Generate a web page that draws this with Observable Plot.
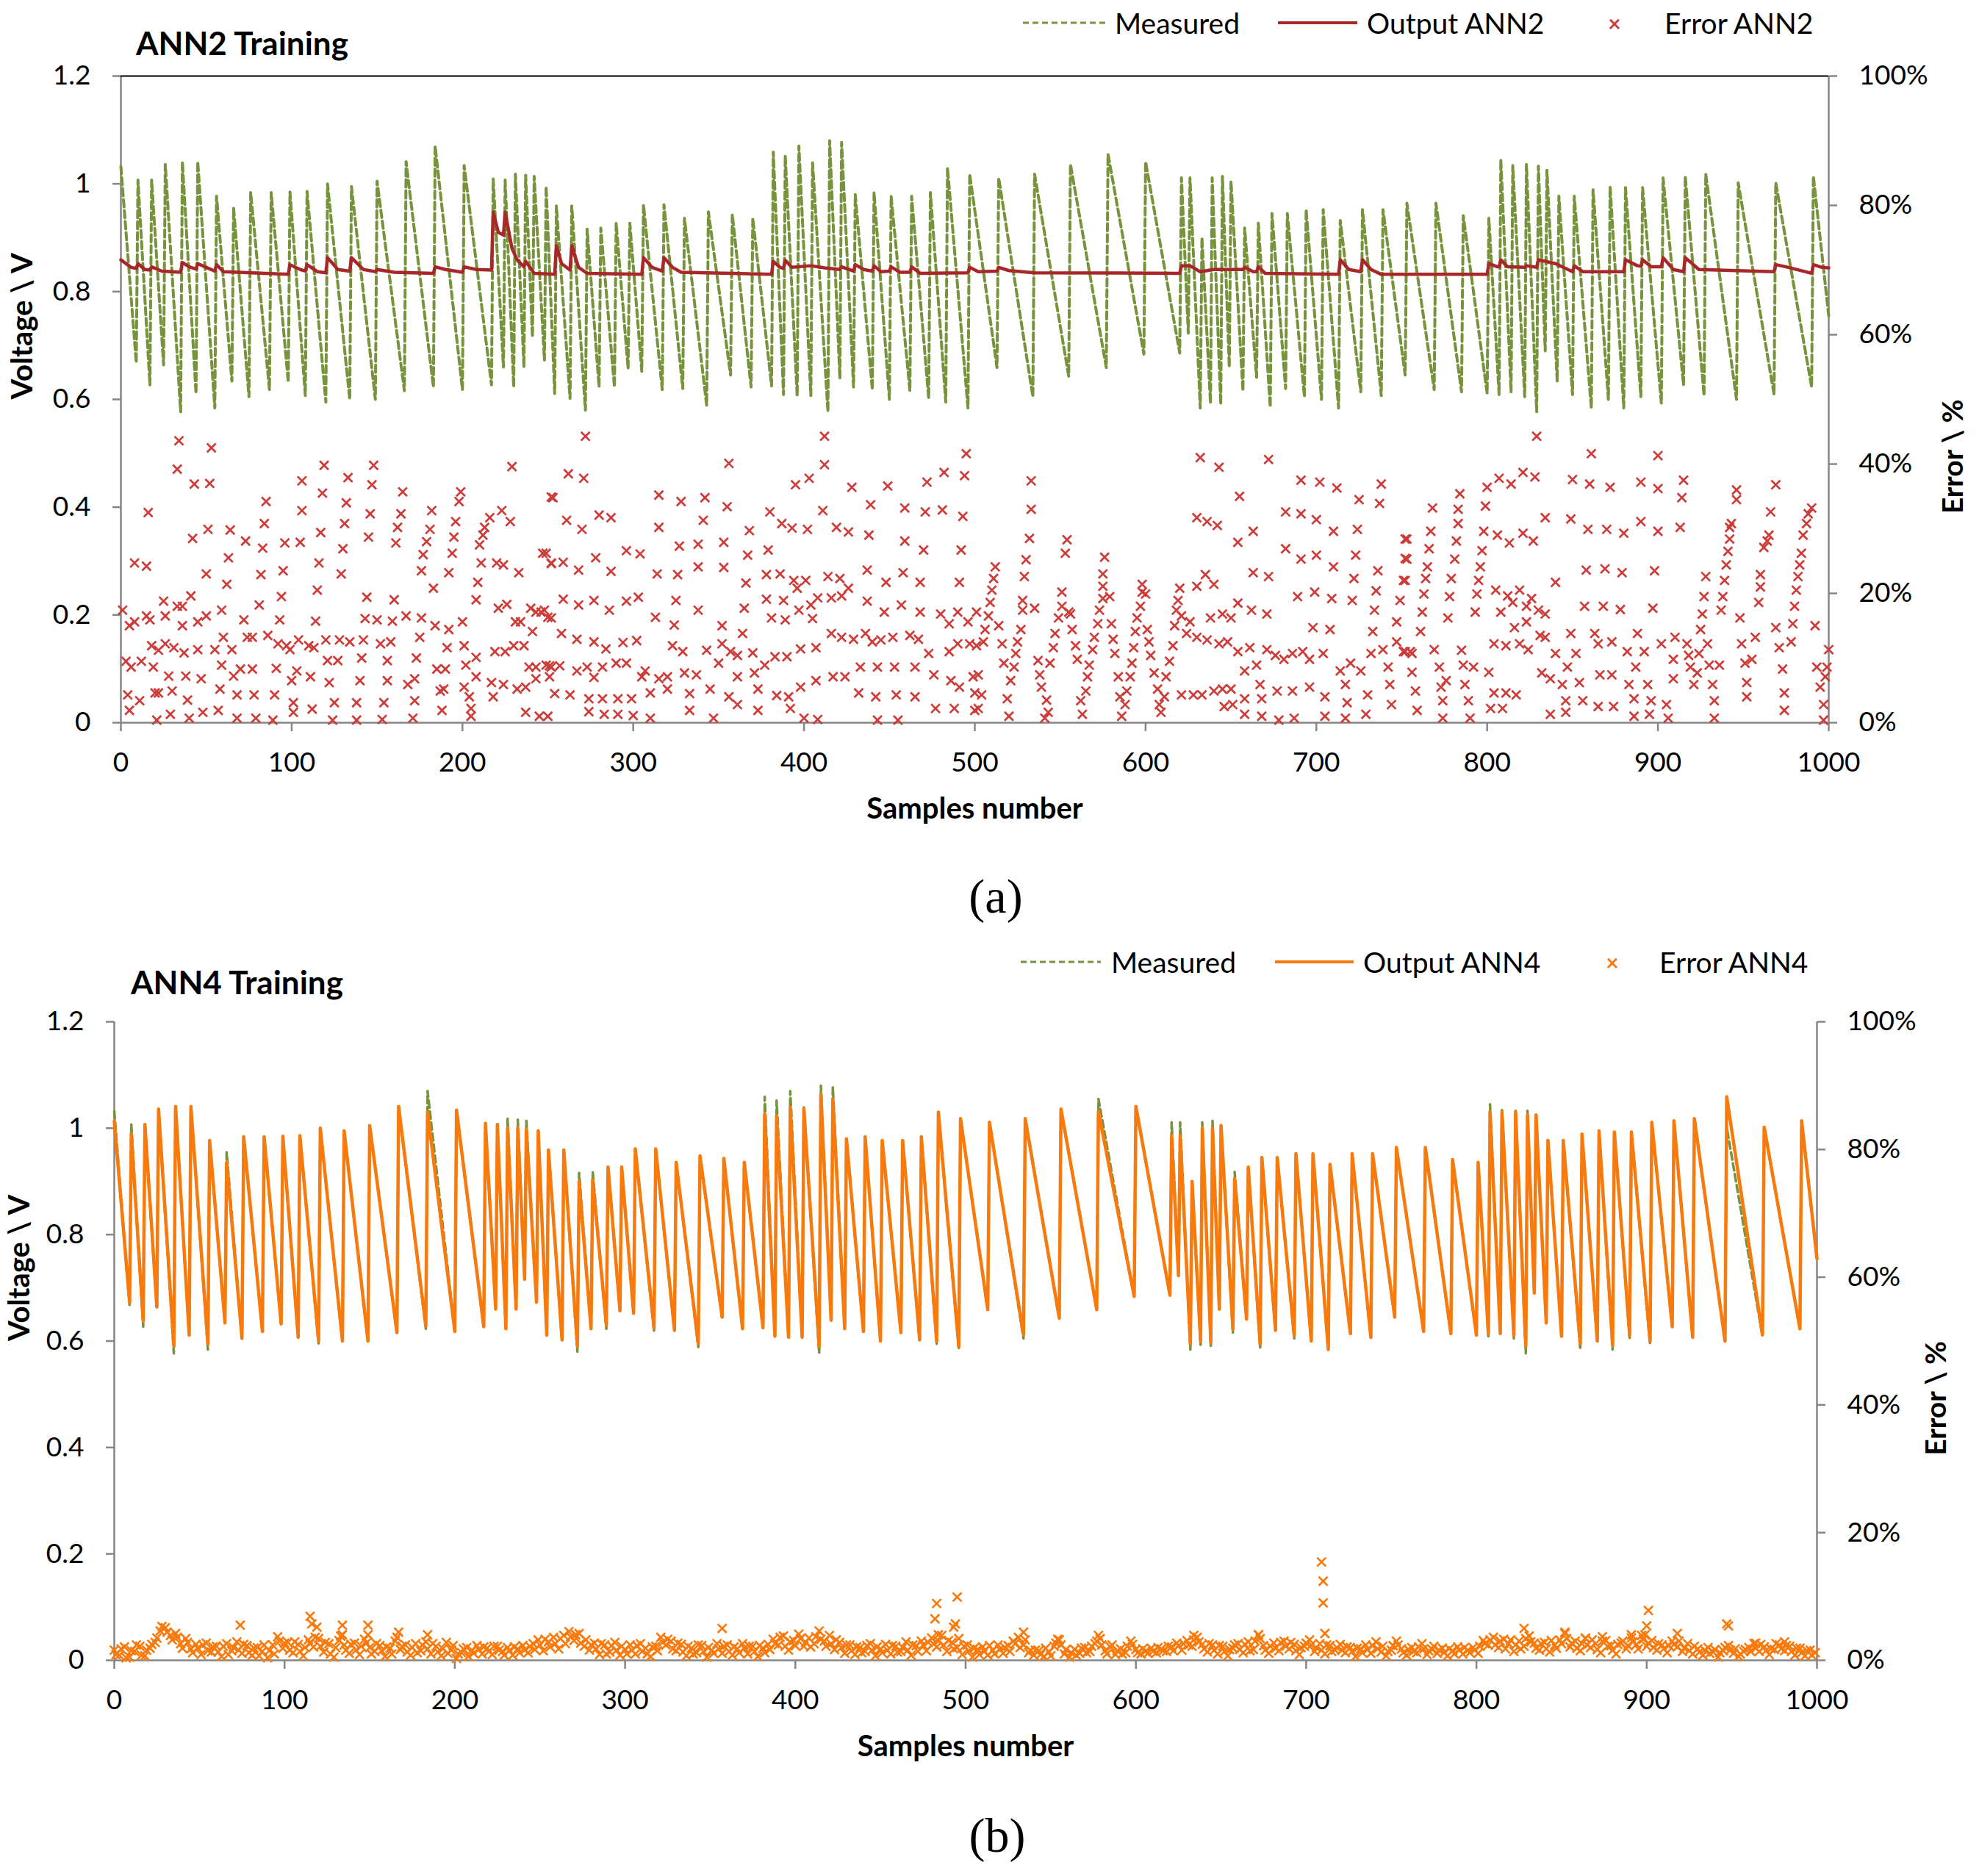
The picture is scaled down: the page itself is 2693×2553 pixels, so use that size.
<!DOCTYPE html>
<html><head><meta charset="utf-8">
<script src="https://cdn.jsdelivr.net/npm/d3@7"></script>
<script src="https://cdn.jsdelivr.net/npm/@observablehq/plot@0.6"></script>
<style>
body{margin:0;background:#fff;}
#page{position:relative;width:2693px;height:2553px;font-family:Lato,"Open Sans",sans-serif;color:#000;overflow:hidden;}
.abs{position:absolute;white-space:nowrap;transform:translateY(-50%);}
.title{font-weight:bold;font-size:44px;line-height:48px;}
.leg{font-size:39px;line-height:44px;}
.cap{font-family:"Liberation Serif","DejaVu Serif",serif;font-size:66px;line-height:70px;transform:translate(-50%,-50%);}
.dash{height:3px;background:repeating-linear-gradient(to right,#77933C 0 8px,transparent 8px 13px);}
.solid{height:4px;}
.mark{font-size:30px;line-height:30px;transform:translate(-50%,-50%);}
</style></head><body><div id="page"></div>
<script>
// ---------- DATA ----------
const xTicks = [0,100,200,300,400,500,600,700,800,900,1000];
const yTicks = [0,0.2,0.4,0.6,0.8,1.0,1.2];
const pctTicks = [0,20,40,60,80,100];

// Measured voltage: vertices (sample number) of the sawtooth
const sampleVertex = [
0,
9,10,17,18,25,26,35,36,44,45,
55,56,65,66,75,76,87,88,98,99,
108,109,120,121,134,135,149,150,166,167,
183,184,200,201,217,218,224,225,230,231,
236,237,241,242,248,249,254,255,263,264,
272,273,280,281,289,290,297,298,305,306,
317,318,329,330,343,344,357,358,369,370,
381,382,388,389,396,397,404,405,414,415,
421,422,429,430,440,441,450,451,462,463,
473,474,483,484,496,497,513,514,534,535,
555,556,577,578,599,600,620,621,625,626,
632,633,638,639,644,645,649,650,657,658,
665,666,673,674,682,683,693,694,703,704,
713,714,726,727,738,739,752,753,769,770,
785,786,800,801,807,808,814,815,822,823,
829,830,834,835,841,842,850,851,861,862,
871,872,880,881,890,891,902,903,915,916,
927,928,946,947,968,969,990,991,
1000];
const measured = [
1.032,
0.668,1.007,0.627,1.007,0.664,1.036,0.577,1.041,0.611,1.041,
0.584,0.977,0.634,0.955,0.605,0.984,0.618,0.984,0.632,0.985,
0.607,0.986,0.595,1.0,0.6,0.995,0.6,1.005,0.616,1.041,
0.623,1.07,0.618,1.034,0.627,1.009,0.66,1.007,0.623,1.018,
0.66,1.016,0.716,1.014,0.673,0.995,0.611,0.959,0.602,0.959,
0.58,0.916,0.623,0.918,0.623,0.927,0.657,0.927,0.652,0.961,
0.618,0.961,0.62,0.936,0.589,0.948,0.645,0.943,0.623,0.936,
0.625,1.059,0.609,1.052,0.607,1.07,0.607,1.039,0.577,1.08,
0.639,1.077,0.623,0.98,0.618,0.984,0.6,0.977,0.616,0.977,
0.602,0.984,0.595,1.03,0.584,1.018,0.659,1.011,0.605,1.018,
0.643,1.036,0.659,1.055,0.684,1.041,0.686,1.011,0.723,1.011,
0.584,0.9,0.593,1.011,0.591,1.014,0.66,1.005,0.616,0.918,
0.641,0.927,0.586,0.945,0.62,0.945,0.605,0.952,0.6,0.952,
0.584,0.932,0.614,0.952,0.607,0.952,0.645,0.964,0.618,0.964,
0.614,0.941,0.611,0.936,0.609,1.045,0.614,1.034,0.605,1.036,
0.577,1.033,0.69,1.025,0.634,0.977,0.609,0.977,0.584,0.989,
0.6,0.995,0.584,0.993,0.605,0.993,0.593,1.011,0.627,1.014,
0.607,1.018,0.6,1.002,0.609,1.002,0.623,1.014,
0.755];
// Output ANN4 at the same vertices
const outputANN4 = [
1.014,
0.672,0.989,0.637,1.007,0.664,1.036,0.591,1.041,0.611,1.041,
0.594,0.977,0.634,0.936,0.605,0.984,0.618,0.984,0.632,0.985,
0.607,0.986,0.6,1.0,0.6,0.995,0.6,1.005,0.616,1.041,
0.628,1.03,0.618,1.034,0.627,1.009,0.66,1.007,0.623,1.0,
0.66,1.0,0.716,0.998,0.673,0.995,0.611,0.959,0.602,0.959,
0.59,0.9,0.623,0.902,0.63,0.927,0.657,0.927,0.652,0.961,
0.625,0.961,0.62,0.936,0.595,0.948,0.645,0.943,0.623,0.936,
0.625,1.027,0.609,1.023,0.607,1.039,0.607,1.037,0.59,1.064,
0.639,1.055,0.623,0.98,0.618,0.984,0.6,0.977,0.616,0.977,
0.602,0.984,0.6,1.03,0.59,1.018,0.659,1.011,0.612,1.018,
0.643,1.036,0.659,1.032,0.684,1.041,0.686,0.986,0.723,0.986,
0.595,0.9,0.6,1.0,0.597,1.0,0.66,1.005,0.622,0.905,
0.641,0.927,0.595,0.945,0.62,0.945,0.61,0.952,0.6,0.952,
0.584,0.932,0.614,0.952,0.607,0.952,0.645,0.964,0.618,0.964,
0.614,0.941,0.611,0.936,0.614,1.03,0.614,1.03,0.61,1.03,
0.59,1.025,0.69,1.025,0.634,0.977,0.609,0.977,0.595,0.989,
0.6,0.995,0.592,0.993,0.61,0.993,0.6,1.011,0.627,1.014,
0.607,1.018,0.6,1.059,0.612,1.002,0.623,1.014,
0.755];

// Output ANN2 (vertices)
const ann2Sample = [
0,6,9,10,14,17,18,24,35,36,
40,44,45,50,55,56,60,98,99,105,
108,109,115,120,121,127,134,135,142,149,
150,160,183,184,190,200,201,208,217,218,
221,224,225,229,232,236,237,242,254,255,
258,263,264,268,273,305,306,311,317,318,
323,328,381,382,386,388,389,393,404,412,
421,422,429,430,435,440,441,445,450,451,
456,462,463,468,496,497,502,513,514,520,
535,620,621,626,632,640,650,657,658,663,
665,666,670,713,714,719,726,727,732,738,
800,801,806,807,808,812,822,823,829,830,
840,850,851,856,871,880,881,888,890,891,
896,902,903,909,915,916,924,968,969,975,
990,991,996,1000];
const outputANN2 = [
0.859,0.845,0.843,0.852,0.841,0.840,0.846,0.838,0.836,0.854,
0.846,0.842,0.852,0.845,0.838,0.85,0.837,0.832,0.85,0.841,
0.838,0.85,0.837,0.835,0.863,0.841,0.838,0.863,0.841,0.837,
0.841,0.836,0.834,0.846,0.841,0.836,0.846,0.841,0.840,0.947,
0.91,0.905,0.947,0.88,0.859,0.846,0.856,0.834,0.832,0.885,
0.852,0.84,0.885,0.845,0.834,0.832,0.863,0.845,0.838,0.863,
0.845,0.836,0.832,0.856,0.845,0.843,0.858,0.845,0.848,0.844,
0.841,0.846,0.838,0.85,0.841,0.838,0.848,0.837,0.838,0.846,
0.836,0.836,0.846,0.834,0.835,0.845,0.837,0.838,0.845,0.839,
0.835,0.834,0.848,0.848,0.837,0.841,0.841,0.841,0.845,0.837,
0.837,0.846,0.834,0.832,0.859,0.841,0.837,0.859,0.841,0.832,
0.832,0.852,0.846,0.846,0.859,0.846,0.845,0.848,0.845,0.859,
0.852,0.837,0.848,0.837,0.837,0.837,0.859,0.848,0.847,0.859,
0.846,0.846,0.863,0.841,0.837,0.863,0.841,0.837,0.85,0.846,
0.834,0.85,0.845,0.844];

// Error ANN2 [sample, %]
const errorANN2 = [
[34,43.6],[33,39.2],[53,42.5],[43,36.9],[52,37],[16,32.5],[106,37.4],[119,39.8],[118,35.5],[106,32.8],[85,34.2],[84,30.8],[133,37.9],[132,34],[148,39.8],[147,36.8],[146,32.3],[145,28.7],[131,30.8],[130,26.9],[129,23],[117,29.4],[116,24.7],[115,20.5],[165,35.7],[164,32.3],[162,30.2],[161,27.8],[182,32.8],[176,23.5],[177,26],[179,28],[181,29.9],[183,20.8],[199,35.7],[198,34.2],[196,31.1],[195,28.7],[194,26.2],[192,23.2],[216,31.7],[210,27.5],[212,29],[213,30.2],[209,21.7],[211,24.7],[208,19],[223,32.8],[228,31.1],[229,39.6],[252,34.9],[247,26.2],[252,24.7],[220,24.7],[224,24.4],[233,23.2],[248,17.4],[240,17.7],[243,17.1],[252,16.2],
[8,24.7],[15,24.2],[42,28.5],[51,29.9],[64,29.8],[73,28.1],[83,27],[63,25.5],[62,21.4],[50,23],[96,27.8],[105,27.9],[95,23.5],[94,19.5],[82,22.9],[81,18.2],[59,17.4],[41,19.6],[25,18.8],[33,18],[36,18],[26,16.5],[1,17.4],[8,15.6],[5,15],[15,16.5],[17,15.9],[45,15.6],[50,16.5],[36,15],[72,15.9],[93,15.9],[114,15.7],[144,19.4],[143,16.1],[150,15.9],[159,15.7],[160,19],[167,16.5],[176,16.2],[184,15],[192,14.4],[200,15.6],[221,17.7],[226,18.3],[231,15.6],[234,15.6],[241,14.1],[246,17.1],
[18,11.9],[26,12.2],[31,11.6],[37,10.8],[22,11.2],[45,11.3],[55,11.3],[60,13.2],[65,11.3],[74,13.2],[77,13.2],[86,13.5],[92,12.2],[97,11.9],[99,11.3],[104,12.8],[110,11.9],[113,11.6],[120,12.8],[128,12.8],[134,12.5],[142,12.8],[152,12.2],[158,12.5],[175,13.2],[191,11.6],[201,11.9],[208,10.1],[219,11],[225,11],[230,11.9],[236,11.9],[239,8.6],[243,8.6],[249,8.9],[252,8.6],
[3,9.5],[6,8.6],[12,9.5],[19,8.6],[28,7.2],[38,7.2],[47,6.8],[59,8.9],[66,7.2],[70,8.3],[77,8.3],[91,8.4],[103,8],[111,7.1],[121,9.6],[127,9.6],[141,10],[156,9.6],[173,10],[185,8.3],[190,8.3],[202,8.9],[208,7.1],[217,6.2],[224,5.9],[232,5.2],[237,5.5],[243,6.8],[251,7.1],
[4,4.3],[11,3.4],[20,4.6],[22,4.6],[30,4.9],[39,3.5],[58,5.2],[68,4.3],[78,4.3],[90,4.3],[100,6.5],[101,3.1],[112,2.1],[122,6.2],[125,3.1],[140,6.5],[138,3.1],[154,3.1],[156,6.5],[168,5.9],[172,6.8],[172,3.4],[187,4.9],[189,5.2],[201,5.5],[204,4],[205,2.2],[218,4],
[5,1.9],[21,0.4],[29,1.3],[40,0.7],[48,1.6],[57,1.9],[68,0.7],[79,0.7],[89,0.4],[101,1.6],[124,0.4],[138,0.4],[153,0.5],[171,0.7],[188,1.9],[205,1],[237,1.6],[245,1],[250,1],
[272,44.3],[262,38.5],[271,37.8],[253,34.8],[356,40.1],[412,44.3],[412,39.9],[411,32.8],[395,36.8],[403,37.8],[428,36.4],[449,36.6],[472,37.2],[482,38.7],[495,41.6],[494,38.2],[493,31.9],[492,26.7],[491,21.7],[315,35.2],[328,34.2],[342,34.8],[355,33.4],[261,31.3],[270,29.9],[280,32.1],[287,31.7],[315,30.2],[341,31.3],[368,29.7],[380,32.6],[387,30.8],[393,30.1],[402,29.9],[419,30.2],[426,29.5],[439,33.7],[438,29],[459,33.2],[471,32.6],[481,32.9],[459,28.1],[470,26.7],
[249,26.2],[252,24.6],[259,24.8],[268,23.6],[278,25.5],[287,23.4],[296,26.6],[304,26.1],[314,23],[326,22.9],[327,27.3],[338,27.6],[338,24.1],[353,27.9],[353,24],[367,25.9],[366,21.6],[379,26.7],[378,22.9],[386,23],[394,22],[401,22],[396,20.8],[414,22.6],[421,22.3],[426,20.8],[437,23.6],[448,21.7],[458,23.2],[468,21.7],
[437,18.8],[447,17.1],[457,18.2],[468,17.1],[480,16.8],[490,17.1],[485,15.3],[496,15.6],[501,17.1],[250,16.3],[259,19.1],[268,18.2],[277,18.9],[286,17.4],[296,18.8],[303,19.4],[313,16.3],[325,18.9],[324,15.1],[338,17.4],[352,15],[365,17.7],[364,13.8],[378,19.1],[381,16.2],[388,18.9],[389,15.9],[397,17.4],[405,16.1],[404,18.2],[408,19.3],[416,19.3],[422,19.6],
[258,13.8],[267,12.9],[277,12.5],[284,11.4],[294,12.4],[302,12.7],[323,11.9],[329,11],[343,11.2],[352,12.2],[357,11],[361,10.4],[370,10.8],[383,10.2],[390,10.2],[398,11.4],[407,11.6],[416,13.8],[422,13.2],[429,12.9],[436,13.8],[440,12.5],[445,12.8],[452,13.2],[462,13.5],[467,12.9],[473,10.7],[485,11],[490,12.2],[497,12.2],
[251,8.8],[257,8.8],[267,8],[273,8.6],[277,7],[282,8.6],[290,9.2],[296,9.2],[307,8],[305,7.1],[315,6.8],[320,7.1],[330,7.7],[337,7.4],[350,9.2],[361,7.1],[371,7.7],[377,8.9],[398,5.5],[407,6.5],[417,7.1],[424,7.1],[433,8.6],[443,8.6],[453,8.6],[465,8.6],[476,7.4],[486,6.5],[491,5.5],[499,7.1],
[254,4.5],[263,4.3],[274,3.7],[282,3.7],[291,3.7],[299,3.7],[310,4.6],[320,5.2],[333,4.5],[345,5.2],[356,4],[373,5.2],[384,4.2],[391,4],[432,4.6],[442,4],[454,4.3],[465,4],[500,4.6],
[274,1.7],[283,1.3],[291,1.3],[300,1.1],[310,0.7],[333,1.9],[347,0.7],[361,2.8],[373,1.9],[392,2.2],[400,0.7],[408,0.5],[443,0.4],[455,0.4],[477,2.2],[488,2.2],[500,1.9],
[632,41],[643,39.5],[672,40.7],[533,37.4],[533,33],[532,28.5],[530,25.2],[529,22.6],[554,28.3],[553,26.2],[576,25.6],[575,23],[575,21.1],[598,20.2],[598,21.4],
[512,24.1],[511,22.3],[510,20.5],[509,18.6],[508,16.5],[506,14.4],[505,12.5],[502,7.4],[504,4.3],[502,2.2],[501,11.9],[514,15],[516,12.2],[517,9.2],[519,3.7],[520,1],[523,8.6],[524,10.7],[525,12.5],[527,14.4],[528,17.4],[528,18.9],[521,6.5],
[535,17.7],[537,9.6],[538,7.4],[539,5.5],[542,3.5],[543,1.6],[541,0.7],[544,9.2],[546,11.6],[547,13.8],[549,16.2],[551,18],[551,20.2],[555,17.1],[556,16.8],[557,14.4],[559,11.9],[560,9.8],[562,3.4],[563,1.3],
[565,4.9],[566,7.1],[567,8.9],[569,11.3],[570,13.2],[572,15.3],[573,17.4],[575,19.2],[579,19.5],[580,15.3],[581,12.9],[582,10.7],[584,7.1],[585,4],[586,1],[588,2.8],[589,4.9],[591,7.1],[592,9.2],[593,11.6],[594,14.1],[595,16.2],[597,18],[600,19.9],
[601,14.4],[602,12.5],[603,10.4],[605,7.7],[607,5.2],[608,2.8],[609,1.6],[611,4],[612,7.1],[614,9.5],[616,11.9],[617,15],[618,17.4],[619,18.9],[620,20.8],
[621,16.5],[626,15.6],[624,13.8],[630,13.2],[636,12.8],[643,12.2],[648,12.5],[654,11],[621,4.3],[628,4.3],[633,4.3],[640,4.9],[645,5.2],[650,5.2],[630,21.1],[635,22.9],[640,21.4],[638,16.2],[645,16.8],[650,16.2],[630,31.7],[636,31.1],[642,30.5],
[655,35],[654,27.9],[663,29.6],[663,23.2],[672,22.6],[654,18.5],[662,17.4],[671,16.8],[661,11.6],[665,8.9],[658,8],[658,3.7],[667,5.9],[668,3.7],[646,2.5],[651,2.8],[658,1.3],[668,1],
[671,11.3],[676,10.4],[681,9.8],[686,10.7],[692,11],[696,9.8],[704,10.7],[677,4.9],[686,4.9],[696,5.5],[678,0.4],[687,0.7],[705,4],[705,1],
[682,32.6],[691,32.3],[700,31.4],[691,37.5],[702,37.2],[712,36.3],[682,26.9],[691,25.3],[700,25.9],[710,29.6],[710,24.1],[709,19.2],[708,14.4],[689,19.5],[699,20.2],[698,14.7],
[714,8],[717,5.9],[718,3.1],[717,0.7],[720,9.2],[721,18.9],[722,22.3],[723,25.9],[724,29.9],[725,34.5],[726,8],[730,4.3],[729,1.3],[732,10.7],[733,14.1],[734,17.4],[735,20.4],[736,23.5],[737,33.9],[738,36.9],
[739,11.3],[742,8.6],[743,5.9],[744,2.8],[747,12.5],[747,15.6],[749,18.9],[751,22],[752,25.4],[752,28.4],[752,11],[756,10.7],
[829,44.3],[861,41.6],[900,41.3],[800,36.4],[807,37.8],[814,36.9],[821,38.7],[828,38],[850,37.6],[860,36.9],[872,36.4],[890,37.2],[900,36.2],[915,37.5],[914,34.8],[969,36.8],[946,36],[946,34.5],
[784,35.4],[783,33],[783,30.8],[782,28.1],[781,25.3],[779,22.3],[778,19.5],[777,16.2],[768,33.2],[767,29.6],[766,26.9],[765,24.1],[764,22.3],[763,19.9],[762,17.1],[761,14.1],[799,33.5],[798,29.6],[797,26.6],[796,24.1],[795,22],[794,19.9],[793,17.1],[753,28.4],[753,25.3],[752,22],
[834,31.7],[849,31.5],[859,29.9],[870,29.9],[880,29.3],[890,31.1],[900,29.6],[913,30.2],[806,29],[813,27.8],[821,29.3],[827,28.1],[858,23.6],[869,23.8],[879,23.2],[898,23.5],[840,21.7],[857,18],[868,18],[878,17.5],[897,17.7],
[805,20.5],[812,19.6],[819,20.5],[826,19.2],[808,17.1],[815,18.6],[823,18],[830,17.4],[834,16.8],[823,15.6],[816,14.7],[824,11.3],[804,12.2],[811,11.9],[819,12.2],[831,13.5],[834,13.2],[840,10.7],[852,10.7],[849,13.8],[863,13.8],[865,12.2],[873,12.5],[882,11],[892,11],[888,13.8],[902,12.2],[910,13.2],[917,12.2],[924,10.7],[929,12.2],
[832,7.7],[837,6.8],[844,5.9],[847,8.6],[854,6.2],[866,7.4],[873,7.4],[883,5.9],[887,8.6],[894,5.9],[909,6.8],[909,9.8],[846,3.4],[856,3.4],[865,2.5],[874,2.5],[886,3.7],[896,3.4],[905,2.8],[837,1.3],[846,1.6],[886,1],[895,1.3],[906,0.7],
[756,7.8],[758,4.9],[759,1.9],[769,11.3],[772,8.6],[773,5.5],[774,3.4],[774,0.7],[776,6.5],[785,11.2],[786,8.9],[787,5.9],[789,3.4],[790,0.7],[792,8.6],[801,7.8],[802,2.2],[804,4.6],[809,2.2],[811,4.6],[817,4.3],[751,11],[755,11],
[918,10.4],[919,8.6],[921,5.9],[923,7.7],[925,14.4],[926,16.8],[927,19.5],[928,22.6],[930,8.9],[932,5.9],[933,3.4],[933,0.7],[936,8.9],[937,17.4],[938,19.5],[939,22],[940,24.4],[941,26.5],[942,28.4],[942,30.2],[943,30.8],
[948,16.2],[949,12.2],[951,9.2],[952,6.2],[952,4],[955,9.8],[957,13.2],[959,18.6],[960,21],[960,22.9],[962,27.1],[964,28.1],[965,29],[966,32.6],
[969,14.7],[971,11.6],[973,8.3],[974,4.6],[974,1.9],[978,12.5],[979,15.3],[980,18],[981,20.5],[982,22.6],[983,24.4],[984,26.2],[985,29],[987,30.8],[988,32.3],[990,33.2],[992,15],[993,8.6],[995,5.5],[997,2.8],[997,0.4],[998,7.1],[999,8.6],[1000,11.3]
];

// Error ANN4 [sample, %]
const errorANN4 = [
[0,1.6],[3,0.8],[6,2.1],[9,0.5],[12,1.4],[15,2.2],[18,0.7],[21,1.9],[24,2.8],[27,4.6],
[30,5.1],[33,3.9],[36,4.2],[39,2.6],[42,3.4],[45,1.8],[48,2.5],[51,0.9],[54,2.7],[57,1.3],
[60,2.2],[63,0.6],[66,2.6],[69,1.5],[72,2.9],[75,1.1],[78,2.3],[81,0.8],[84,2.0],[87,1.4],
[90,0.4],[93,2.4],[96,3.7],[99,1.9],[102,2.8],[105,1.2],[108,2.5],[111,0.7],[114,3.2],[117,2.1],
[120,3.4],[123,1.3],[126,2.6],[129,0.5],[132,3.1],[135,2.4],[138,1.1],[141,2.7],[144,0.9],[147,3.3],
[150,2.0],[153,1.4],[156,2.3],[159,0.6],[162,1.9],[165,3.0],[168,1.7],[171,2.4],[174,0.8],[177,2.6],
[180,1.5],[183,2.9],[186,1.0],[189,2.2],[192,0.7],[195,2.8],[198,1.6],[201,0.3],[204,1.2],[207,2.0],
[210,1.6],[213,2.3],[216,1.0],[219,1.9],[222,0.9],[225,2.2],[228,1.4],[231,2.0],[234,0.8],[237,1.8],
[240,2.3],[243,1.2],[246,2.6],[249,3.2],[252,1.5],[255,2.9],[258,3.6],[261,1.8],[264,3.9],[267,4.5],
[270,3.1],[273,4.2],[276,2.2],[279,1.6],[282,2.7],[285,0.9],[288,2.4],[291,1.3],[294,2.8],[297,0.8],
[300,1.7],[303,2.4],[306,1.0],[309,2.6],[312,1.9],[315,0.6],[318,2.2],[321,3.6],[324,2.4],[327,3.0],
[330,1.5],[333,2.5],[336,0.7],[339,1.9],[342,1.2],[345,2.3],[348,0.5],[351,1.6],[354,2.6],[357,1.1],
[360,2.4],[363,0.8],[366,1.8],[369,2.6],[372,1.0],[375,2.2],[378,0.6],[381,1.9],[384,2.5],[387,3.3],
[390,2.4],[393,3.8],[396,1.6],[399,3.1],[402,4.1],[405,2.2],[408,3.5],[411,2.6],[414,4.6],[417,3.0],
[420,3.9],[423,1.7],[426,2.8],[429,1.1],[432,2.4],[435,0.9],[438,2.0],[441,1.4],[444,2.6],[447,0.7],
[450,1.8],[453,2.5],[456,1.0],[459,2.2],[462,1.4],[465,2.9],[468,0.8],[471,2.3],[474,3.0],[477,1.5],
[480,3.5],[483,2.1],[486,3.9],[489,1.4],[492,2.8],[495,2.0],[498,0.9],[501,2.4],[504,0.5],[507,1.7],
[510,2.1],[513,0.8],[516,1.6],[519,2.4],[522,1.1],[525,2.3],[528,3.0],[531,3.6],[534,2.4],[537,1.2],
[540,0.8],[543,1.5],[546,0.6],[549,1.3],[552,2.2],[555,3.2],[558,1.0],[561,0.5],[564,1.7],[567,1.1],
[570,2.0],[573,1.4],[576,2.6],[579,3.4],[582,1.5],[585,2.1],[588,0.9],[591,1.8],[594,1.2],[597,3.0],
[600,1.7],[603,1.0],[606,1.5],[609,1.9],[612,1.2],[615,1.8],[618,1.4],[621,2.1],[624,2.7],[627,1.6],
[630,3.1],[633,2.2],[636,3.6],[639,2.5],[642,1.3],[645,2.4],[648,1.0],[651,2.2],[654,0.7],[657,1.9],
[660,2.6],[663,1.2],[666,2.9],[669,1.7],[672,4.0],[675,2.3],[678,1.1],[681,2.7],[684,1.5],[687,3.0],
[690,1.8],[693,2.5],[696,0.9],[699,2.2],[702,3.2],[705,1.4],[708,2.6],[711,1.0],[714,2.3],[717,1.6],
[720,2.5],[723,1.2],[726,2.0],[729,0.6],[732,1.8],[735,2.4],[738,1.1],[741,2.9],[744,1.3],[747,0.7],
[750,1.6],[753,3.0],[756,1.8],[759,0.8],[762,2.0],[765,1.2],[768,2.6],[771,0.9],[774,1.7],[777,1.1],
[780,1.9],[783,0.7],[786,1.5],[789,2.1],[792,1.0],[795,1.6],[798,2.0],[801,1.1],[804,3.1],[807,2.4],
[810,3.6],[813,2.0],[816,3.3],[819,2.6],[822,1.4],[825,3.0],[828,2.2],[831,3.8],[834,2.7],[837,1.6],
[840,2.8],[843,1.3],[846,2.4],[849,3.2],[852,4.2],[855,2.1],[858,3.0],[861,1.5],[864,3.4],[867,2.0],
[870,2.6],[873,1.2],[876,3.1],[879,2.3],[882,1.0],[885,2.7],[888,1.8],[891,3.5],[894,2.5],[897,3.9],
[900,2.2],[903,3.1],[906,1.6],[909,2.4],[912,1.2],[915,3.0],[918,2.1],[921,1.4],[924,2.6],[927,1.0],
[930,1.8],[933,0.8],[936,2.0],[939,1.3],[942,0.5],[945,1.5],[948,2.3],[951,1.1],[954,0.6],[957,1.4],
[960,2.0],[963,2.6],[966,1.4],[969,2.1],[972,0.9],[975,1.7],[978,2.4],[981,1.5],[984,2.2],[987,0.8],
[990,1.9],[993,0.7],[996,1.6],[999,1.2],
[1,0.9],[4,1.8],[7,0.4],[10,1.5],[13,2.4],[16,0.8],[19,1.6],[22,2.5],[25,3.5],[28,5.3],
[31,4.4],[34,3.2],[37,3.6],[40,1.9],[43,2.8],[46,1.2],[49,1.9],[52,2.4],[55,1.5],[58,2.1],
[61,1.3],[64,2.2],[67,0.9],[70,2.0],[73,1.6],[76,2.5],[79,1.2],[82,1.9],[85,0.7],[88,2.4],
[91,1.5],[94,1.0],[97,3.0],[100,2.7],[103,1.6],[106,2.9],[109,1.4],[112,2.0],[115,2.6],[118,3.6],
[121,2.2],[124,2.8],[127,1.0],[130,2.0],[133,3.8],[136,1.6],[139,2.5],[142,1.6],[145,2.2],[148,2.7],
[151,1.0],[154,2.6],[157,1.5],[160,2.1],[163,1.0],[166,3.6],[169,2.2],[172,1.3],[175,2.0],[178,1.2],
[181,2.4],[184,1.8],[187,2.6],[190,1.3],[193,1.8],[196,1.1],[199,2.3],[202,1.0],[205,1.8],[208,0.6],
[211,1.1],[214,1.7],[217,2.1],[220,1.4],[223,2.2],[226,1.6],[229,0.8],[232,1.5],[235,2.1],[238,1.2],
[241,1.6],[244,2.2],[247,1.7],[250,2.4],[253,3.3],[256,2.1],[259,2.6],[262,3.4],[265,2.6],[268,3.7],
[271,4.0],[274,2.7],[277,3.2],[280,2.4],[283,1.8],[286,2.6],[289,1.0],[292,2.3],[295,1.6],[298,2.2],
[301,1.0],[304,1.6],[307,2.3],[310,1.4],[313,1.0],[316,2.1],[319,1.5],[322,2.8],[325,3.3],[328,1.8],
[331,2.7],[334,1.3],[337,2.2],[340,1.0],[343,2.4],[346,1.4],[349,2.0],[352,1.1],[355,1.8],[358,2.2],
[361,1.4],[364,2.1],[367,1.2],[370,1.9],[373,2.2],[376,1.4],[379,2.3],[382,1.2],[385,1.7],[388,2.6],
[391,3.6],[394,2.2],[397,2.9],[400,2.3],[403,3.4],[406,2.8],[409,2.1],[412,3.7],[415,3.3],[418,2.2],
[421,2.6],[424,3.2],[427,2.0],[430,2.4],[433,1.5],[436,2.1],[439,1.2],[442,2.3],[445,1.6],[448,2.1],
[451,1.2],[454,1.6],[457,2.3],[460,1.3],[463,2.0],[466,1.6],[469,2.4],[472,1.4],[475,2.4],[478,2.8],
[481,2.6],[484,3.0],[487,2.4],[490,3.1],[493,1.8],[496,3.4],[499,2.2],[502,1.5],[505,1.9],[508,0.9],
[511,1.4],[514,2.3],[517,1.0],[520,1.7],[523,2.0],[526,1.4],[529,2.6],[532,2.0],[535,3.2],[538,1.6],
[541,1.6],[544,0.9],[547,1.9],[550,0.7],[553,2.7],[556,2.4],[559,1.7],[562,1.2],[565,0.8],[568,1.9],
[571,1.2],[574,2.2],[577,3.0],[580,2.4],[583,1.0],[586,2.4],[589,1.5],[592,1.0],[595,2.2],[598,2.5],
[601,1.2],[604,1.8],[607,1.1],[610,1.4],[613,2.0],[616,1.5],[619,2.2],[622,1.5],[625,2.3],[628,2.6],
[631,2.4],[634,3.2],[637,2.9],[640,1.8],[643,2.6],[646,1.6],[649,2.3],[652,1.4],[655,1.7],[658,2.4],
[661,1.7],[664,2.5],[667,1.5],[670,3.0],[673,3.4],[676,1.6],[679,2.2],[682,1.9],[685,2.8],[688,2.2],
[691,2.8],[694,1.5],[697,2.0],[700,2.7],[703,2.4],[706,2.0],[709,1.6],[712,2.4],[715,1.4],[718,2.0],
[721,1.6],[724,2.1],[727,1.4],[730,1.9],[733,1.2],[736,1.7],[739,2.3],[742,1.8],[745,2.2],[748,1.4],
[751,2.3],[754,2.4],[757,1.2],[760,1.7],[763,1.4],[766,2.1],[769,1.8],[772,1.5],[775,2.2],[778,1.6],
[781,1.2],[784,1.8],[787,1.0],[790,1.6],[793,2.0],[796,1.2],[799,1.6],[802,2.2],[805,2.6],[808,3.2],
[811,2.4],[814,3.0],[817,1.8],[820,3.2],[823,2.4],[826,1.8],[829,3.4],[832,2.9],[835,1.9],[838,2.6],
[841,1.8],[844,3.1],[847,1.9],[850,2.6],[853,3.4],[856,2.7],[859,1.9],[862,2.6],[865,2.4],[868,3.2],
[871,1.7],[874,3.0],[877,2.2],[880,1.6],[883,2.5],[886,3.0],[889,2.3],[892,2.9],[895,1.8],[898,3.3],
[901,2.7],[904,2.0],[907,2.6],[910,1.8],[913,2.3],[916,2.5],[919,3.0],[922,1.9],[925,1.5],[928,2.2],
[931,1.3],[934,1.6],[937,1.1],[940,1.7],[943,1.2],[946,2.0],[949,1.6],[952,1.8],[955,1.0],[958,1.7],
[961,1.4],[964,1.9],[967,2.5],[970,1.5],[973,1.8],[976,2.6],[979,1.8],[982,2.3],[985,1.4],[988,1.9],
[991,1.2],[994,1.5],[997,0.8],
[74,5.5],[115,6.9],[116,5.7],[119,5.2],[134,5.5],[134,4.0],[149,5.5],[149,4.0],[167,4.4],[184,4.0],
[357,5.0],[483,8.9],[482,6.5],[495,9.9],[494,5.7],[493,5.2],[484,4.0],[534,4.4],[554,3.3],[578,3.9],
[634,3.9],[672,4.0],[709,15.4],[710,12.4],[710,9.0],[711,4.2],[828,5.0],[852,4.4],[864,3.5],[874,3.7],
[891,4.0],[901,7.8],[900,5.4],[899,4.0],[918,4.2],[947,5.7],[948,5.4],[964,2.7],[981,2.9]
];

// ---------- STYLE ----------
const GREEN = "#77933C", DARKRED = "#A8282A", RED = "#CC3D3A", ORANGE = "#F97A0C", GRAY = "#868686";
const FONT = "Lato, 'Open Sans', sans-serif";
const pct = v => v * 1.2 / 100; // % on the right axis -> volts on the shared scale

function panel(o) {
  return Plot.plot({
    width: 2693, height: o.height,
    marginTop: o.mt, marginBottom: o.mb, marginLeft: o.ml, marginRight: o.mr,
    style: {fontFamily: FONT, fontSize: "37px", color: "#000", background: "transparent", overflow: "visible"},
    x: {domain: [0, 1000]},
    y: {domain: [0, 1.2]},
    marks: [
      Plot.axisX({ticks: xTicks, tickSize: 12, tickPadding: 28, stroke: GRAY, strokeWidth: 2.5, label: null, tickFormat: d => String(d)}),
      Plot.axisY({anchor: "left", ticks: yTicks, tickSize: 11, tickPadding: 30, stroke: GRAY, strokeWidth: 2.5, label: null,
        tickFormat: d => d === 0 ? "0" : String(+d.toFixed(1))}),
      Plot.axisY({anchor: "right", ticks: pctTicks.map(pct), tickSize: 11, tickPadding: 30, stroke: GRAY, strokeWidth: 2.5, label: null,
        tickFormat: d => Math.round(d / 1.2 * 100) + "%"}),
      Plot.ruleX([0, 1000], {stroke: GRAY, strokeWidth: 2.5}),
      Plot.ruleY([0], {stroke: GRAY, strokeWidth: 2.5}),
      ...(o.topRule ? [Plot.ruleY([1.2], {stroke: "#000", strokeWidth: 2})] : []),
      Plot.line(sampleVertex, {x: d => d, y: (d, i) => measured[i], stroke: GREEN, strokeWidth: o.measWidth, strokeDasharray: "10,5"}),
      Plot.line(o.outX, {x: d => d, y: (d, i) => o.outY[i], stroke: o.outColor, strokeWidth: o.outWidth, strokeLinejoin: "round"}),
      Plot.dot(o.err, {x: d => d[0], y: d => pct(d[1]), symbol: "times", r: o.r, stroke: o.errColor, strokeWidth: o.errWidth}),
      Plot.text(["Samples number"], {text: d => d, frameAnchor: "bottom", dy: 118, lineAnchor: "middle", fontWeight: "bold", fontSize: 40}),
      Plot.text(["Voltage \\ V"], {text: d => d, frameAnchor: "left", dx: o.ylabL, rotate: -90, lineAnchor: "middle", fontWeight: "bold", fontSize: 40}),
      Plot.text(["Error \\ %"], {text: d => d, frameAnchor: "right", dx: o.ylabR, rotate: -90, lineAnchor: "middle", fontWeight: "bold", fontSize: 39})
    ]
  });
}

const page = document.getElementById("page");
function place(node, top) {
  const d = document.createElement("div");
  d.style.position = "absolute"; d.style.left = "0px"; d.style.top = top + "px";
  d.appendChild(node); page.appendChild(d);
}
function txt(cls, text, left, top, extra) {
  const s = document.createElement("div");
  s.className = "abs " + cls; s.textContent = text;
  s.style.left = left + "px"; s.style.top = top + "px";
  if (extra) Object.assign(s.style, extra);
  page.appendChild(s); return s;
}
function legend(y, lineColor, outName, errColor, errName, x) {
  txt("dash", "", x[0], y, {width: (x[1] - x[0]) + "px"});
  txt("leg", "Measured", x[2], y);
  txt("solid", "", x[3], y, {width: (x[4] - x[3]) + "px", background: lineColor});
  txt("leg", outName, x[5], y);
  txt("mark", "×", x[6], y, {color: errColor, fontWeight: "bold"});
  txt("leg", errName, x[7], y);
}

place(panel({height: 1200, mt: 103, mb: 217, ml: 164, mr: 205, topRule: true, measWidth: 4,
  outX: ann2Sample, outY: outputANN2, outColor: DARKRED, outWidth: 4.5,
  err: errorANN2, errColor: RED, r: 5.5, errWidth: 2.7, ylabL: -133, ylabR: 170}), 0);

place(panel({height: 1150, mt: 90, mb: 191, ml: 155, mr: 221, topRule: false, measWidth: 3.5,
  outX: sampleVertex, outY: outputANN4, outColor: ORANGE, outWidth: 4.5,
  err: errorANN4, errColor: ORANGE, r: 5.5, errWidth: 2.6, ylabL: -128, ylabR: 163}), 1300);

txt("title", "ANN2 Training", 185, 58);
txt("title", "ANN4 Training", 178, 1336);
legend(31, DARKRED, "Output ANN2", RED, "Error ANN2", [1392, 1504, 1517, 1739, 1847, 1860, 2197, 2265]);
legend(1309, ORANGE, "Output ANN4", ORANGE, "Error ANN4", [1389, 1498, 1512, 1735, 1842, 1855, 2194, 2258]);
txt("cap", "(a)", 1355, 1220);
txt("cap", "(b)", 1357, 2498);
</script>
</body></html>
